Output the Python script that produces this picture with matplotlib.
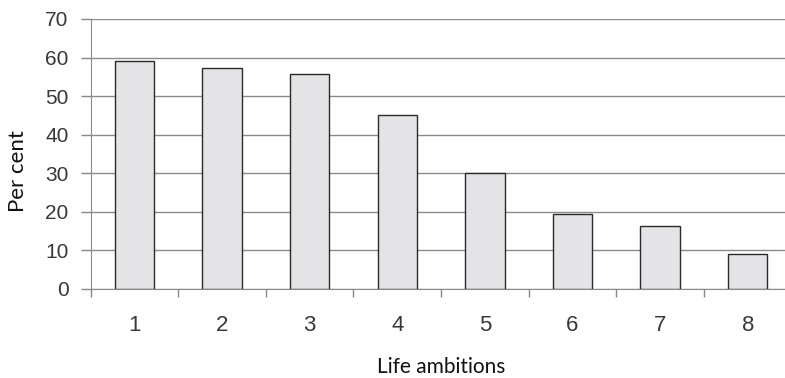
import numpy as np
import matplotlib
matplotlib.use("Agg")
import matplotlib.pyplot as plt
from matplotlib import font_manager

categories = ["1", "2", "3", "4", "5", "6", "7", "8"]
values = [59.0, 57.4, 55.6, 45.1, 30.0, 19.3, 16.4, 9.0]
yticks = [0, 10, 20, 30, 40, 50, 60, 70]

names = {f.name for f in font_manager.fontManager.ttflist}
narrow = "Liberation Sans Narrow" if "Liberation Sans Narrow" in names else "Liberation Sans"

fig = plt.figure(figsize=(7.85, 3.78), dpi=100)
ax = fig.add_axes([90.7 / 785, (378 - 288.7) / 378, 700.8 / 785, 269.7 / 378])

x = np.arange(len(categories))
ax.bar(x, values, width=0.45, color="#e4e4e6", edgecolor="#2a2a2a", linewidth=1.0, zorder=3)

ax.set_xlim(-0.5, len(categories) - 0.5)
ax.set_ylim(0, 70)
ax.set_yticks(yticks)
ax.set_yticklabels([str(v) for v in yticks])
ax.yaxis.grid(True, color="#8a8a8a", linewidth=1.0, zorder=0)

# category labels centred, ticks on the boundaries
ax.set_xticks(x)
ax.set_xticklabels(categories)
ax.set_xticks(np.arange(len(categories) + 1) - 0.5, minor=True)
ax.tick_params(axis="x", which="major", length=0, pad=19, labelsize=16, labelcolor="#383838")
ax.tick_params(axis="x", which="minor", length=6, color="#888888", width=1)
ax.tick_params(axis="y", length=7, color="#888888", width=1, pad=9, labelsize=15, labelcolor="#383838")
for lab in ax.get_xticklabels():
    lab.set_family(narrow)
for lab in ax.get_yticklabels():
    lab.set_family("Liberation Sans")

for s in ["top", "right"]:
    ax.spines[s].set_visible(False)
ax.spines["left"].set_color("#8a8a8a")
ax.spines["bottom"].set_color("#8a8a8a")

ax.set_ylabel("Per cent", fontsize=16, family="Lato", color="#111111")
ax.yaxis.set_label_coords(-0.09, 0.436)
ax.set_xlabel("Life ambitions", fontsize=15, family="Lato", color="#111111", va="top")
ax.xaxis.set_label_coords(0.5, -0.255)

fig.savefig("out.png", dpi=100)
